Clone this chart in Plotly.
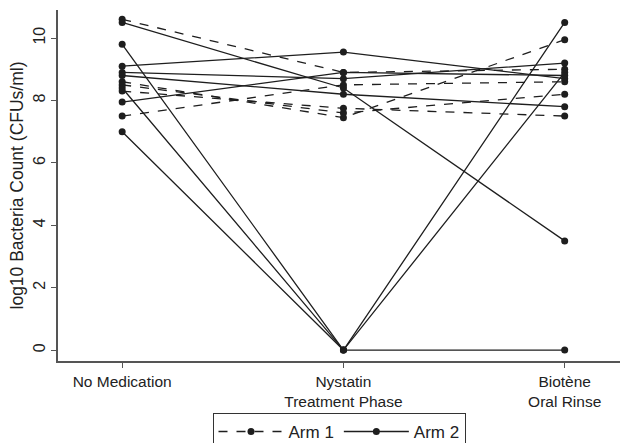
import plotly.graph_objects as go

phases = ["No Medication", "Nystatin<br>Treatment Phase", "Biotène<br>Oral Rinse"]
phase_pos = [0, 1, 2]

# Arm 1 subjects (dashed): values at each phase
arm1 = [
    [10.6, 8.9, 9.0],
    [8.6, 7.45, 9.95],
    [8.5, 7.6, 8.2],
    [7.5, 8.5, 8.6],
    [8.3, 7.75, 7.5],
]
# Arm 2 subjects (solid)
arm2 = [
    [10.5, 8.4, 3.5],
    [9.8, 0.0, 10.5],
    [8.4, 0.0, 8.9],
    [7.0, 0.0, 0.0],
    [9.1, 9.55, 8.7],
    [8.9, 8.7, 9.2],
    [8.8, 8.2, 7.8],
    [7.95, 8.9, 8.8],
]

y_ticks = [0, 2, 4, 6, 8, 10]

fig = go.Figure()
col = "#1e1e1e"
for i, vals in enumerate(arm1):
    fig.add_trace(go.Scatter(
        x=phase_pos, y=vals, mode="lines+markers", name="Arm 1",
        legendgroup="a1", showlegend=(i == 0),
        line=dict(color=col, width=1.3, dash="dash"),
        marker=dict(color=col, size=7)))
for i, vals in enumerate(arm2):
    fig.add_trace(go.Scatter(
        x=phase_pos, y=vals, mode="lines+markers", name="Arm 2",
        legendgroup="a2", showlegend=(i == 0),
        line=dict(color=col, width=1.3),
        marker=dict(color=col, size=7)))

fig.update_layout(
    width=626, height=443,
    margin=dict(l=58, r=6, t=10, b=82, autoexpand=False),
    plot_bgcolor="white", paper_bgcolor="white",
    font=dict(family="Liberation Sans, Arial, sans-serif", size=15, color="#222"),
    legend=dict(orientation="h", x=0.5, xanchor="center", y=-0.148, yanchor="top",
                bordercolor="#333", borderwidth=1, font=dict(size=17),
                itemwidth=65, traceorder="normal"),
)
fig.update_xaxes(
    range=[-0.29, 2.25], tickvals=phase_pos, ticktext=phases,
    showline=True, linecolor="#555", linewidth=2, ticks="outside", ticklen=5,
    tickcolor="#555", showgrid=False, zeroline=False, tickfont=dict(size=15.5),
    automargin=False)
fig.update_yaxes(
    range=[-0.35, 10.9], tickvals=y_ticks, tickangle=-90,
    showline=True, linecolor="#555", linewidth=2, ticks="outside", ticklen=5,
    tickcolor="#555", showgrid=False, zeroline=False, tickfont=dict(size=16),
    automargin=False,
    title=dict(text="log10 Bacteria Count (CFUs/ml)", font=dict(size=17.5), standoff=2))

fig.write_html("out.html", config={"displayModeBar": False},
               post_script="document.body.style.margin='0';")
